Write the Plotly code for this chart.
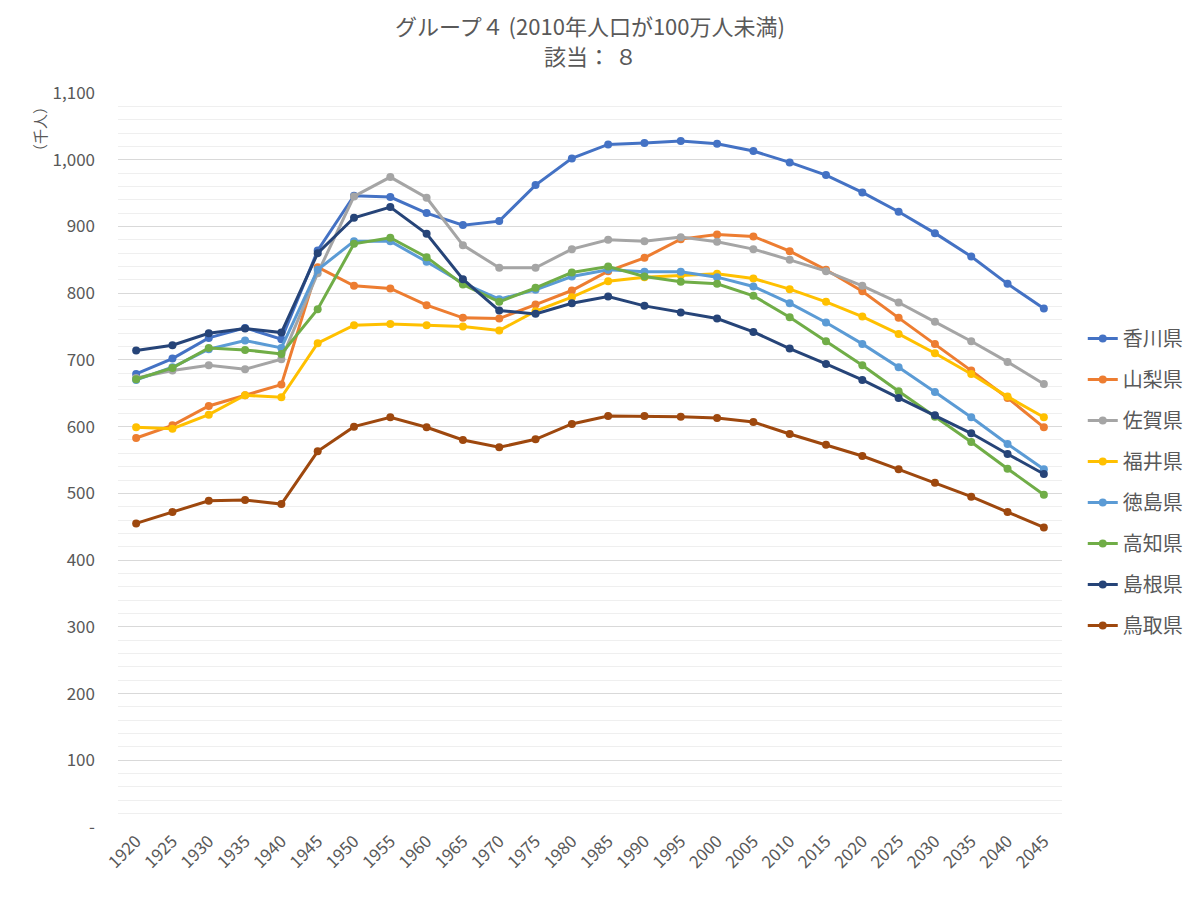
import plotly.graph_objects as go

years = [1920, 1925, 1930, 1935, 1940, 1945, 1950, 1955, 1960, 1965, 1970, 1975, 1980,
         1985, 1990, 1995, 2000, 2005, 2010, 2015, 2020, 2025, 2030, 2035, 2040, 2045]

kagawa = [679, 702, 733, 748, 731, 864, 946, 944, 920, 902, 908, 962, 1002,
          1023, 1025, 1028, 1024, 1013, 996, 977, 951, 922, 890, 855, 814, 777]
yamanashi = [583, 602, 631, 647, 663, 839, 811, 807, 782, 763, 762, 783, 804,
             833, 853, 881, 888, 885, 863, 835, 803, 763, 724, 684, 643, 599]
saga = [673, 684, 692, 686, 701, 830, 945, 974, 943, 872, 838, 838, 866,
        880, 878, 884, 877, 866, 850, 833, 811, 786, 757, 728, 697, 664]
fukui = [599, 597, 618, 647, 644, 725, 752, 754, 752, 750, 744, 773, 794,
         818, 824, 827, 829, 822, 806, 787, 765, 739, 710, 679, 645, 614]
tokushima = [670, 689, 716, 729, 718, 835, 878, 878, 847, 815, 791, 805, 825,
             835, 832, 832, 824, 810, 785, 756, 724, 689, 652, 614, 574, 536]
kochi = [671, 688, 718, 715, 709, 776, 874, 883, 854, 813, 787, 808, 831,
         840, 825, 817, 814, 796, 764, 728, 692, 653, 615, 577, 537, 498]
shimane = [714, 722, 740, 747, 741, 860, 913, 929, 889, 821, 774, 769, 785,
           795, 781, 771, 762, 742, 717, 694, 670, 643, 617, 590, 559, 529]
tottori = [455, 472, 489, 490, 484, 563, 600, 614, 599, 580, 569, 581, 604,
           616, 616, 615, 613, 607, 589, 573, 556, 536, 516, 495, 472, 449]

series = [
    ("香川県", kagawa, "#4472C4"),
    ("山梨県", yamanashi, "#ED7D31"),
    ("佐賀県", saga, "#A5A5A5"),
    ("福井県", fukui, "#FFC000"),
    ("徳島県", tokushima, "#5B9BD5"),
    ("高知県", kochi, "#70AD47"),
    ("島根県", shimane, "#264478"),
    ("鳥取県", tottori, "#9E480E"),
]

y_ticks = list(range(0, 1101, 100))
y_labels = ["-" if v == 0 else f"{v:,}" for v in y_ticks]

FONT = "Noto Sans CJK JP"
GREY = "#595959"

fig = go.Figure()
for name, vals, color in series:
    fig.add_trace(
        go.Scatter(
            x=years,
            y=vals,
            name=name,
            legendgroup=name,
            mode="lines+markers",
            line=dict(color=color, width=3),
            marker=dict(size=8, color=color),
        )
    )

fig.update_layout(
    width=1200,
    height=898,
    paper_bgcolor="white",
    plot_bgcolor="white",
    font=dict(family=FONT, color=GREY, size=17),
    margin=dict(l=110, r=146, t=85, b=79),
    xaxis=dict(
        range=[1917.5, 2047.5],
        tickvals=years,
        ticktext=[str(y) for y in years],
        tickangle=-45,
        showgrid=False,
        zeroline=False,
        showline=False,
        ticks="",
        tickfont=dict(size=17, color=GREY),
    ),
    yaxis=dict(
        range=[0, 1100],
        tickvals=y_ticks,
        ticktext=y_labels,
        showgrid=True,
        gridcolor="#d9d9d9",
        gridwidth=1,
        zeroline=False,
        showline=False,
        ticks="",
        ticklabelstandoff=22,
        tickfont=dict(size=17, color=GREY),
        minor=dict(tick0=0, dtick=20, showgrid=True, gridcolor="#efefef", gridwidth=1),
    ),
    legend=dict(
        x=1.022,
        xanchor="left",
        y=0.47,
        yanchor="middle",
        font=dict(size=20, color=GREY, family=FONT),
        tracegroupgap=12,
        bgcolor="rgba(0,0,0,0)",
    ),
    annotations=[
        dict(
            text="グループ４ (2010年人口が100万人未満)",
            xref="paper",
            yref="paper",
            x=0.5,
            y=1.0926,
            xanchor="center",
            yanchor="middle",
            showarrow=False,
            font=dict(size=22, color=GREY, family=FONT),
        ),
        dict(
            text="該当： ８",
            xref="paper",
            yref="paper",
            x=0.5,
            y=1.0518,
            xanchor="center",
            yanchor="middle",
            showarrow=False,
            font=dict(size=22, color=GREY, family=FONT),
        ),
        dict(
            text="（千人）",
            textangle=-90,
            xref="paper",
            yref="paper",
            x=-0.0826,
            y=0.9946,
            xanchor="center",
            yanchor="top",
            showarrow=False,
            font=dict(size=15, color=GREY, family=FONT),
        ),
    ],
)

fig.write_html("out.html")
